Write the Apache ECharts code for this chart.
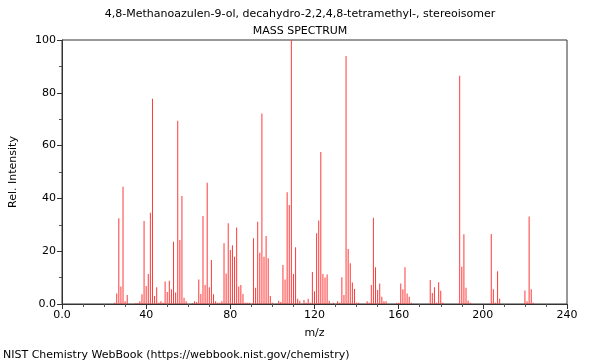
<!DOCTYPE html>
<html><head><meta charset="utf-8">
<script src="https://cdn.jsdelivr.net/npm/echarts@6/dist/echarts.min.js"></script>
<style>html,body{margin:0;padding:0;background:#fff}#c{width:600px;height:360px}</style>
</head><body><div id="c"></div>
<script>
const titleText = "4,8-Methanoazulen-9-ol, decahydro-2,2,4,8-tetramethyl-, stereoisomer";
const subtitleText = "MASS SPECTRUM";
const footerText = "NIST Chemistry WebBook (https://webbook.nist.gov/chemistry)";
const xTicks = [0, 40, 80, 120, 160, 200, 240];
const yTicks = [0, 20, 40, 60, 80, 100];
const mz = [25,26,27,28,29,30,31,35,36,37,38,39,40,41,42,43,44,45,46,47,48,49,50,51,52,53,54,55,56,57,58,59,
  62,63,64,65,66,67,68,69,70,71,72,73,74,75,76,77,78,79,80,81,82,83,84,85,86,87,88,89,
  91,92,93,94,95,96,97,98,99,100,103,104,105,106,107,108,109,110,111,112,113,115,116,117,118,
  119,120,121,122,123,124,125,126,127,129,131,132,133,134,135,136,137,138,139,140,141,
  145,146,147,148,149,150,151,152,153,154,159,160,161,162,163,164,165,166,
  175,176,177,178,179,180,181,189,190,191,192,193,194,204,205,206,207,208,220,221,222,223,224];
const intensity = [0.5,4,32.5,6.6,44.4,1,3.4,0.3,0.4,1,3.7,31.4,6.8,11.4,34.6,77.7,3,6.3,0.5,1,0.5,8.5,4.5,8.8,5.6,23.6,4.4,69.4,24.2,40.9,2.4,1,
  0.3,1,0.8,9.3,3.8,33.3,7.2,45.9,6.3,16.7,3.7,1,0.5,0.5,1,23,11.6,30.6,20.5,22.3,17.9,29,6.6,7.2,3.8,0.5,0.5,0.5,
  24.9,6.2,31.2,19.4,72.2,17.9,25.8,17.3,3,0.5,1.2,0.8,14.8,9.3,42.3,37.5,100,11.4,21.5,2,1.2,1.5,0.5,2,0.5,
  12.1,4.8,26.8,31.6,57.6,11.4,10,11.2,1.2,0.5,1,0.5,10.1,3.4,93.9,20.8,15.4,8.1,5.7,0.5,0.5,
  1,0.5,7.2,32.7,13.9,5.3,7.8,2.7,1,1,0.4,0.5,7.8,5.6,13.9,4,2.7,0.5,
  9.1,4.2,6.3,0.5,8.2,5,0.5,86.5,14.1,26.4,6.2,1.3,0.5,26.5,5.6,0.5,12.4,2,5.1,1,33.1,5.6,0.5];

const data = mz.map((m, i) => [m, intensity[i]]);
const chart = echarts.init(document.getElementById('c'));
const font = 'DejaVu Sans';
chart.setOption({
  animation: false,
  title: [
    {text: titleText, left: 'center', top: 4, textStyle: {fontFamily: font, fontSize: 11, fontWeight: 'normal', color: '#000'}},
    {text: subtitleText, left: 'center', top: 21, textStyle: {fontFamily: font, fontSize: 11, fontWeight: 'normal', color: '#000'}},
    {text: footerText, left: -2, top: 345, textStyle: {fontFamily: font, fontSize: 11, fontWeight: 'normal', color: '#000'}}
  ],
  grid: {left: 62, right: 33, top: 40, bottom: 56, show: true, borderColor: '#333', borderWidth: 1, backgroundColor: 'transparent'},
  xAxis: {
    type: 'value', min: xTicks[0], max: xTicks[xTicks.length - 1], interval: 40,
    name: 'm/z', nameLocation: 'middle', nameGap: 24,
    nameTextStyle: {fontFamily: font, fontSize: 11, color: '#000'},
    axisLine: {lineStyle: {color: '#333'}},
    axisTick: {show: true, length: 5, lineStyle: {color: '#333'}},
    minorTick: {show: true, splitNumber: 4, length: 3, lineStyle: {color: '#555'}},
    splitLine: {show: false},
    axisLabel: {fontFamily: font, fontSize: 11, color: '#000', margin: 6,
      formatter: v => v === 0 ? '0.0' : String(v)}
  },
  yAxis: {
    type: 'value', min: yTicks[0], max: yTicks[yTicks.length - 1], interval: 20,
    name: 'Rel. Intensity', nameLocation: 'middle', nameGap: 43,
    nameTextStyle: {fontFamily: font, fontSize: 11, color: '#000'},
    axisLine: {show: true, lineStyle: {color: '#333'}},
    axisTick: {show: true, length: 5, lineStyle: {color: '#333'}},
    minorTick: {show: true, splitNumber: 2, length: 3, lineStyle: {color: '#555'}},
    splitLine: {show: false},
    axisLabel: {fontFamily: font, fontSize: 11, color: '#000', margin: 6,
      formatter: v => v === 0 ? '0.0' : String(v)}
  },
  series: [{
    type: 'bar', data: data, barWidth: 1, barGap: '-100%',
    itemStyle: {color: '#ff3a3a'}, silent: true
  }]
});
</script></body></html>
